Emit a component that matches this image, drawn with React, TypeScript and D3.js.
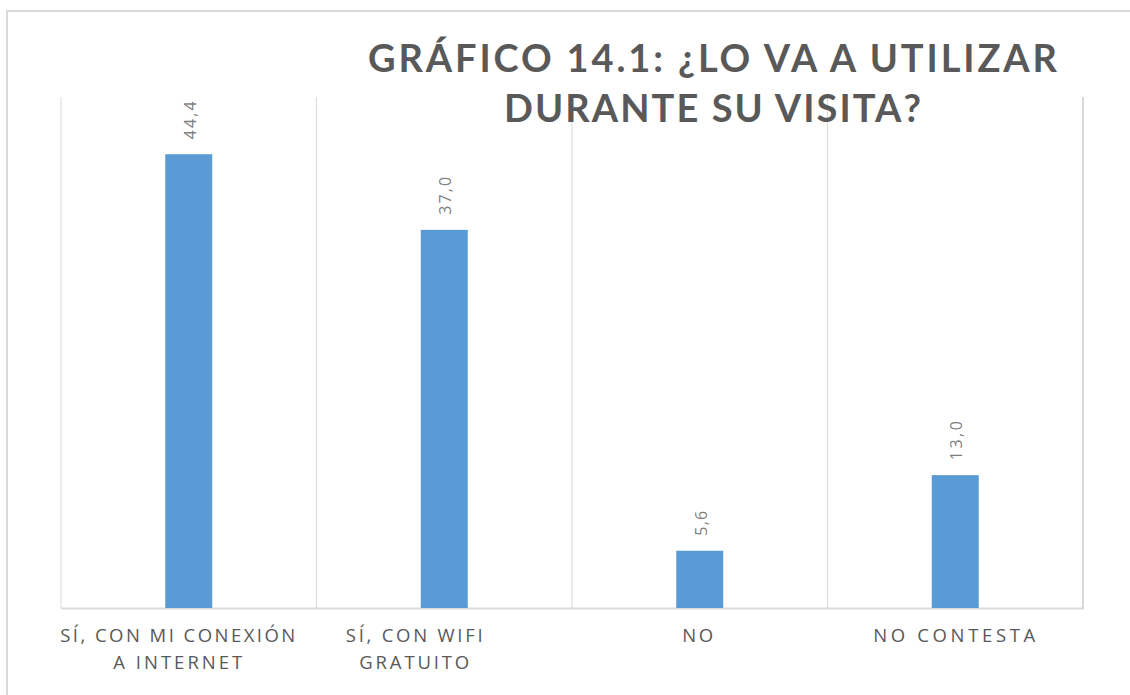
import React from "react";
import * as d3 from "d3";

const titleLines = ["GRÁFICO 14.1: ¿LO VA A UTILIZAR", "DURANTE SU VISITA?"];
const categories = ["SÍ, CON MI CONEXIÓN A INTERNET", "SÍ, CON WIFI GRATUITO", "NO", "NO CONTESTA"];
const categoryLines = [["SÍ, CON MI CONEXIÓN", "A INTERNET"], ["SÍ, CON WIFI", "GRATUITO"], ["NO"], ["NO CONTESTA"]];
const values = [44.4, 37.0, 5.6, 13.0];
const valueLabels = ["44,4", "37,0", "5,6", "13,0"];

const W = 1130;
const H = 695;
const plot = { left: 61, right: 1083, top: 97, bottom: 608 };
const labelShift = [-11, -30, -2, -1];
const labelLengths = [[235, 129], [137, 110], [31], [162]];
const valueLengths = [38, 38, 25, 39];

export default function App() {
  const x = d3.scaleBand<string>().domain(categories).range([plot.left, plot.right]).padding(0);
  const y = d3.scaleLinear().domain([0, 50]).range([plot.bottom, plot.top]);
  const bw = x.bandwidth() * 0.184;
  const gridXs = [...categories.map((c) => x(c) as number), plot.right];
  const font = "'Open Sans', 'DejaVu Sans', sans-serif";
  const titleFont = "Lato, 'Open Sans', sans-serif";

  return (
    <svg width={W} height={H} style={{ position: "absolute", left: 0, top: 0, background: "#fff" }}>
      <rect x={7} y={11} width={1300} height={900} fill="#fff" stroke="#d9d9d9" strokeWidth={2} />
      {gridXs.map((gx, i) => (
        <line key={i} x1={gx} x2={gx} y1={plot.top} y2={plot.bottom} stroke="#d9d9d9" strokeWidth={i === gridXs.length - 1 ? 2 : 1} />
      ))}
      <line x1={plot.left} x2={plot.right + 1} y1={plot.bottom + 0.5} y2={plot.bottom + 0.5} stroke="#d9d9d9" strokeWidth={2} />
      {categories.map((c, i) => {
        const cx = (x(c) as number) + x.bandwidth() / 2;
        const top = y(values[i]);
        return (
          <g key={c}>
            <rect x={cx - bw / 2} y={top} width={bw} height={plot.bottom - top} fill="#5b9bd5" />
            <text
              transform={`translate(${cx + 1},${top - 15}) rotate(-90)`}
              dominantBaseline="central"
              fontFamily={font}
              fontSize={16}
              fill="#7f7f7f"
              textLength={valueLengths[i]}
              lengthAdjust="spacing"
            >
              {valueLabels[i]}
            </text>
            {categoryLines[i].map((ln, j) => (
              <text
                key={j}
                x={cx + labelShift[i] - labelLengths[i][j] / 2}
                y={642 + j * 27}
                fontFamily={font}
                fontSize={18.5}
                fill="#595959"
                textLength={labelLengths[i][j]}
                lengthAdjust="spacing"
              >
                {ln}
              </text>
            ))}
          </g>
        );
      })}
      <text x={368} y={72} fontFamily={titleFont} fontWeight="bold" fontSize={38} fill="#595959" textLength={689} lengthAdjust="spacing">
        {titleLines[0]}
      </text>
      <text x={504} y={122} fontFamily={titleFont} fontWeight="bold" fontSize={38} fill="#595959" textLength={417} lengthAdjust="spacing">
        {titleLines[1]}
      </text>
    </svg>
  );
}
